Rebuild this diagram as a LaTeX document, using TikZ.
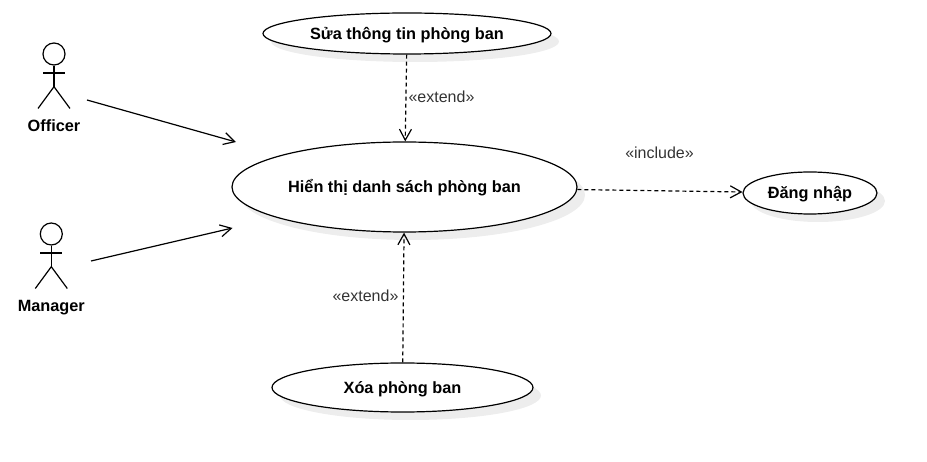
\documentclass[tikz,border=0pt]{standalone}
\usepackage{fontspec}
\setmainfont{Liberation Sans}
\usetikzlibrary{arrows.meta,positioning,shapes.geometric,shadows}

\tikzset{
    usecase/.style={ellipse,draw=black,fill=white,line width=1.2pt,inner sep=0pt,
        text height=16pt,text depth=4pt,
        font=\fontsize{16.3}{18}\selectfont\bfseries,
        drop shadow={shadow xshift=8pt,shadow yshift=-8pt,fill=black!7,opacity=1}},
    head/.style={circle,draw=black,line width=1.2pt,minimum size=22pt,inner sep=0pt},
    actorname/.style={text height=12pt,text depth=4pt,font=\fontsize{16.3}{18}\selectfont\bfseries},
    stereo/.style={font=\fontsize{16}{18}\selectfont,text=black!80},
    assoc/.style={-{Straight Barb[length=11pt,width=12pt,line width=1.2pt]},line width=1.2pt},
    dep/.style={assoc,dash pattern=on 4pt off 3pt},
}

\begin{document}
\begin{tikzpicture}[x=1pt,y=-1pt]
    \useasboundingbox (0,0) rectangle (927,462);

    \node[usecase,minimum width=288pt,minimum height=41pt] (edit) at (407,33.5) {Sửa thông tin phòng ban};
    \node[usecase,minimum width=345pt,minimum height=90pt] (list) at (404.5,187) {Hiển thị danh sách phòng ban};
    \node[usecase,minimum width=134pt,minimum height=42pt] (login) at (810,193) {Đăng nhập};
    \node[usecase,minimum width=261pt,minimum height=49pt] (delete) at (402.5,387.5) {Xóa phòng ban};

    % stick figures
    \foreach \who/\name/\hx/\hy in {officer/Officer/54/54,manager/Manager/51.3/234} {
        \node[head] (\who) at (\hx,\hy) {};
        \node[actorname,below=73.5pt of \who.center,anchor=center] (\who name) {\name};
        \coordinate (\who hip) at (\hx,\hy+32.7);
        \draw[line width=1.2pt] (\who.south) -- (\who hip);
        \draw[line width=1.2pt] (\hx-11,\hy+19) -- (\hx+11,\hy+19);
        \draw[line width=1.2pt] (\hx-16,\hy+54.5) -- (\who hip) -- (\hx+16,\hy+54.5);
    }

    \coordinate (officer out) at (87,100);
    \coordinate (officer in) at (236,142);
    \coordinate (manager out) at (91,261);
    \coordinate (manager in) at (232.5,228);
    \draw[assoc] (officer out) -- (officer in);
    \draw[assoc] (manager out) -- (manager in);

    \draw[dep] (edit) -- (list);
    \draw[dep] (delete) -- (list);
    \draw[dep] (list) -- (login);

    \node[stereo] (extendtop) at (441.5,97) {«extend»};
    \node[stereo] (extendbot) at (365.5,296) {«extend»};
    \node[stereo] (include) at (659.5,153) {«include»};
\end{tikzpicture}
\end{document}
